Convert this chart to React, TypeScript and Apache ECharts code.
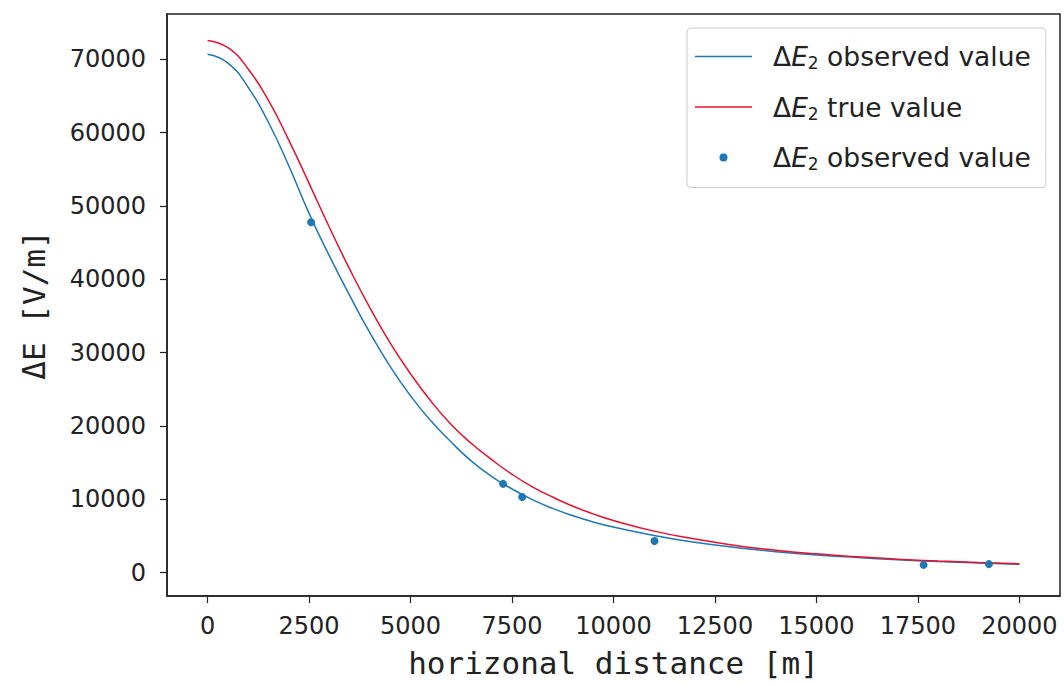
import React, { useEffect, useRef } from "react";
import * as echarts from "echarts";

const xs = [0, 500, 1000, 1500, 2000, 2500, 3000, 3500, 4000, 4500, 5000, 5500, 6000, 6500, 7000, 7500, 8000, 8500, 9000, 9500, 10000, 11000, 12000, 13000, 14000, 15000, 16000, 17000, 18000, 19000, 20000];
const observedLine = [70700, 69500, 66200, 61400, 55500, 49000, 43200, 37800, 32700, 28100, 24100, 20700, 17800, 15200, 13100, 11400, 9950, 8750, 7750, 6900, 6200, 5050, 4120, 3430, 2850, 2400, 2050, 1750, 1500, 1300, 1120];
const trueLine = [72600, 71600, 68700, 64400, 59000, 53100, 47100, 41400, 36100, 31300, 27100, 23400, 20200, 17600, 15400, 13400, 11700, 10300, 9050, 8000, 7100, 5650, 4580, 3700, 3050, 2550, 2150, 1830, 1570, 1360, 1180];
const pointX = [2550, 7280, 7750, 11010, 17640, 19250];
const pointY = [47800, 12100, 10300, 4300, 1050, 1150];
const xTicks = [0, 2500, 5000, 7500, 10000, 12500, 15000, 17500, 20000];
const yTicks = [0, 10000, 20000, 30000, 40000, 50000, 60000, 70000];

const NAMES = ["obsLine", "trueLine", "obsPts"];
const LABELS: Record<string, string> = {
  obsLine: "{d|Δ}{e|E}{s|2}{t| observed value}",
  trueLine: "{d|Δ}{e|E}{s|2}{t| true value}",
  obsPts: "{d|Δ}{e|E}{s|2}{t| observed value}",
};

const LINE_ICON = "path://M0,0 L0,0 M0,5.25 L57,5.25 L57,6.75 L0,6.75 Z M73,12 L73,12";
const DOT_ICON = "path://M0,0 L0,0 M24.5,6 A4,4 0 1,1 32.5,6 A4,4 0 1,1 24.5,6 Z M73,12 L73,12";

export default function App() {
  const ref = useRef<HTMLDivElement>(null);
  useEffect(() => {
    if (!ref.current) return;
    const chart = echarts.init(ref.current, null, { renderer: "svg" });
    const pair = (a: number[], b: number[]) => a.map((x, i) => [x, b[i]]);
    const tickFont = { fontFamily: "DejaVu Sans", fontSize: 24, color: "#222" };
    const titleFont = { fontFamily: "DejaVu Sans Mono", fontSize: 31, color: "#222" };
    const rich = {
      d: { fontFamily: "DejaVu Sans", fontSize: 26.5, lineHeight: 30, color: "#222" },
      e: { fontFamily: "DejaVu Sans", fontStyle: "italic", fontSize: 26.5, lineHeight: 30, color: "#222" },
      s: { fontFamily: "DejaVu Sans", fontSize: 17, lineHeight: 30, verticalAlign: "bottom", color: "#222" },
      t: { fontFamily: "DejaVu Sans", fontSize: 26.5, lineHeight: 30, color: "#222" },
    };
    chart.setOption({
      animation: false,
      backgroundColor: "#fff",
      grid: { left: 167, top: 14, right: 4, bottom: 88, show: true, borderColor: "#222", borderWidth: 1.5, containLabel: false },
      xAxis: {
        type: "value",
        min: -1000,
        max: 21000,
        name: "horizonal distance [m]",
        nameLocation: "middle",
        nameGap: 51,
        nameTextStyle: titleFont,
        axisLine: { show: true, onZero: false, lineStyle: { color: "#222", width: 1.5 } },
        axisTick: { show: true, length: 7, customValues: xTicks, lineStyle: { color: "#222", width: 1.2 } },
        axisLabel: { customValues: xTicks, margin: 18, formatter: (v: number) => String(v), ...tickFont },
        splitLine: { show: false },
      },
      yAxis: {
        type: "value",
        min: -3200,
        max: 76200,
        name: "ΔE [V/m]",
        nameLocation: "middle",
        nameGap: 118,
        nameTextStyle: titleFont,
        axisLine: { show: true, onZero: false, lineStyle: { color: "#222", width: 1.5 } },
        axisTick: { show: true, length: 7, customValues: yTicks, lineStyle: { color: "#222", width: 1.2 } },
        axisLabel: { customValues: yTicks, margin: 21, formatter: (v: number) => String(v), ...tickFont },
        splitLine: { show: false },
      },
      legend: {
        orient: "vertical",
        left: 687,
        top: 28,
        padding: [15, 15, 15, 8],
        itemWidth: 73,
        itemHeight: 12,
        itemGap: 22,
        borderColor: "#cccccc",
        borderWidth: 1,
        borderRadius: 4,
        backgroundColor: "rgba(255,255,255,0.8)",
        data: [
          { name: NAMES[0], icon: LINE_ICON, itemStyle: { color: "#1f77b4" } },
          { name: NAMES[1], icon: LINE_ICON, itemStyle: { color: "#e8112d" } },
          { name: NAMES[2], icon: DOT_ICON, itemStyle: { color: "#1f77b4" } },
        ],
        formatter: (n: string) => LABELS[n],
        textStyle: { rich },
      },
      series: [
        {
          name: NAMES[0],
          type: "line",
          data: pair(xs, observedLine),
          smooth: 0.5,
          showSymbol: false,
          symbol: "none",
          lineStyle: { color: "#1f77b4", width: 1.5 },
          itemStyle: { color: "#1f77b4" },
          z: 2,
        },
        {
          name: NAMES[1],
          type: "line",
          data: pair(xs, trueLine),
          smooth: 0.5,
          showSymbol: false,
          symbol: "none",
          lineStyle: { color: "#e8112d", width: 1.5 },
          itemStyle: { color: "#e8112d" },
          z: 3,
        },
        {
          name: NAMES[2],
          type: "scatter",
          data: pair(pointX, pointY),
          symbolSize: 8,
          itemStyle: { color: "#1f77b4", opacity: 1 },
          z: 4,
        },
      ],
    });
    return () => chart.dispose();
  }, []);
  return <div ref={ref} style={{ width: 1064, height: 684, position: "absolute", left: 0, top: 0 }} />;
}
